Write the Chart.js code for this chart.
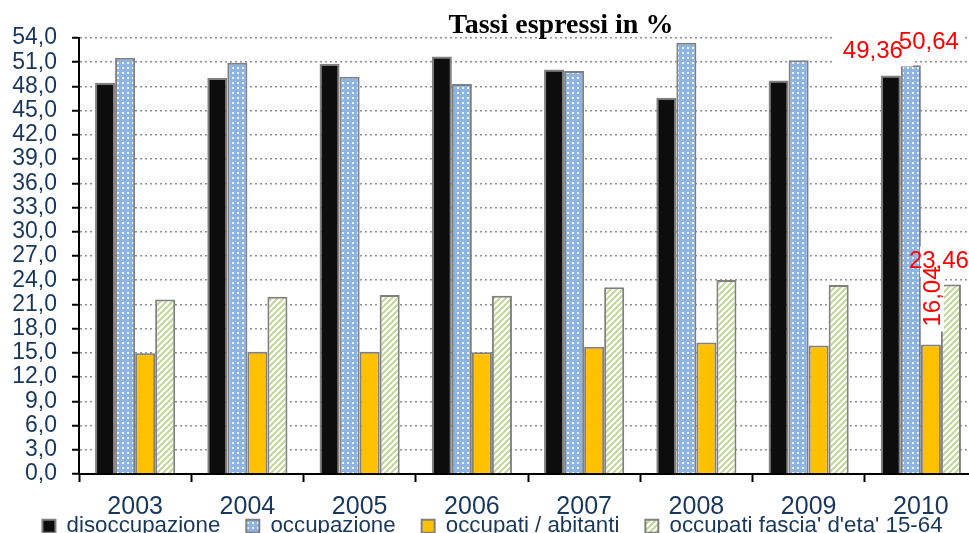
<!DOCTYPE html>
<html>
<head>
<meta charset="utf-8">
<title>Tassi espressi in %</title>
<script src="https://cdn.jsdelivr.net/npm/chart.js@4.4.0/dist/chart.umd.min.js"></script>
<style>
  html, body { margin: 0; padding: 0; overflow: hidden; background: #fff; }
  #wrap { width: 985px; height: 533px; }
</style>
</head>
<body>
<div id="wrap"><canvas id="tassi"></canvas></div>
<script>
// dati per anno
const anni = ['2003', '2004', '2005', '2006', '2007', '2008', '2009', '2010'];
const disoccupazione = [48.45, 49.05, 50.8, 51.7, 50.1, 46.6, 48.75, 49.36];
const occupazione = [51.55, 50.95, 49.2, 48.3, 49.9, 53.4, 51.25, 50.64];
const occupatiAbitanti = [14.95, 15.15, 15.15, 15.07, 15.77, 16.3, 15.9, 16.04];
const occupatiFascia = [21.6, 21.96, 22.17, 22.09, 23.12, 24.03, 23.4, 23.46];
const nomiSerie = ['disoccupazione', 'occupazione', 'occupati / abitanti', "occupati fascia' d'eta' 15-64"];

const BLU_TESTO = '#17375E';
const BORDO = '#808080';

// riempimento a puntini per "occupazione"
function puntini() {
  const c = document.createElement('canvas');
  c.width = 5; c.height = 5;
  const g = c.getContext('2d');
  g.fillStyle = '#8EB4E3';
  g.fillRect(0, 0, 5, 5);
  g.fillStyle = 'rgba(255,255,255,0.85)';
  g.fillRect(2, 2, 2, 2);
  return g.createPattern(c, 'repeat');
}

// righe diagonali per "occupati fascia"
function righe() {
  const c = document.createElement('canvas');
  c.width = 6; c.height = 6;
  const g = c.getContext('2d');
  g.fillStyle = '#fff';
  g.fillRect(0, 0, 6, 6);
  g.strokeStyle = '#C4D79B';
  g.lineWidth = 2.2;
  g.beginPath();
  g.moveTo(-1, 7); g.lineTo(7, -1);
  g.moveTo(-1, 1); g.lineTo(1, -1);
  g.moveTo(5, 7); g.lineTo(7, 5);
  g.stroke();
  return g.createPattern(c, 'repeat');
}

const virgola = (v, d) => v.toFixed(d).replace('.', ',');

// titolo sopra il grafico
const titolo = {
  id: 'titolo',
  afterDraw(chart) {
    const ctx = chart.ctx;
    ctx.save();
    ctx.font = 'bold 28px "Liberation Serif"';
    ctx.fillStyle = '#000';
    ctx.textAlign = 'center';
    ctx.textBaseline = 'alphabetic';
    ctx.fillText('Tassi espressi in %', 561, 33);
    ctx.restore();
  }
};

// la legenda sta quasi attaccata agli anni, sotto l'asse
const legendaBassa = {
  id: 'legendaBassa',
  afterLayout(chart) {
    const lg = chart.legend;
    lg.top = 489;
    lg.bottom = chart.height;
    lg.height = lg.bottom - lg.top;
    lg.left += 4;
    lg.right += 4;
  }
};

// etichette rosse sui valori dell'ultimo anno:
// [dx, dy, rotazione, margine sfondo sx, margine sfondo dx]
const spostamenti = [
  [-18, -25, 0, 8, 10],
  [18, -24, 0, 3, 6],
  [1, -48, -Math.PI / 2, 5, 5],
  [-12, -24, 0, -11, 4]
];
const etichette = {
  id: 'etichette',
  afterDatasetsDraw(chart) {
    const ctx = chart.ctx;
    const ultimo = anni.length - 1;
    ctx.save();
    ctx.font = '24px "Liberation Sans"';
    ctx.textAlign = 'center';
    ctx.textBaseline = 'middle';
    const voci = chart.data.datasets.map((ds, i) => {
      const bar = chart.getDatasetMeta(i).data[ultimo];
      const [dx, dy, rot, ms, md] = spostamenti[i];
      return { x: bar.x + dx, y: bar.y + dy, rot, ms, md, testo: virgola(ds.data[ultimo], 2) };
    });
    // prima gli sfondi bianchi, poi i testi
    for (const v of voci) {
      const w = ctx.measureText(v.testo).width;
      ctx.save();
      ctx.translate(v.x, v.y);
      ctx.rotate(v.rot);
      ctx.fillStyle = '#fff';
      if (v.rot) ctx.fillRect(-w / 2 - v.ms, -11, w + v.ms + v.md, 23);
      else ctx.fillRect(-w / 2 - v.ms, -14, w + v.ms + v.md, 30);
      ctx.restore();
    }
    ctx.fillStyle = '#FF0000';
    for (const v of voci) {
      ctx.save();
      ctx.translate(v.x, v.y);
      ctx.rotate(v.rot);
      ctx.fillText(v.testo, 0, 1);
      ctx.restore();
    }
    ctx.restore();
  }
};

const colori = ['#0D0D0D', puntini(), '#FFC000', righe()];
const valori = [disoccupazione, occupazione, occupatiAbitanti, occupatiFascia];

new Chart(document.getElementById('tassi'), {
  type: 'bar',
  data: {
    labels: anni,
    datasets: valori.map((dati, i) => ({
      label: nomiSerie[i],
      data: dati,
      backgroundColor: colori[i],
      borderColor: BORDO,
      borderWidth: 2,
      categoryPercentage: 0.714,
      barPercentage: 1
    }))
  },
  options: {
    responsive: true,
    maintainAspectRatio: false,
    animation: false,
    layout: { padding: { top: 38, right: 8, left: 0, bottom: 0 } },
    plugins: {
      tooltip: { enabled: false },
      legend: {
        position: 'bottom',
        maxHeight: 1,
        labels: {
          boxWidth: 13,
          boxHeight: 13,
          padding: 26,
          color: BLU_TESTO,
          font: { family: 'Liberation Sans', size: 22.3 }
        }
      }
    },
    scales: {
      x: {
        grid: { offset: true, drawOnChartArea: false, tickLength: 8, tickColor: '#000', tickWidth: 2 },
        border: { color: '#000', width: 2 },
        ticks: { padding: 10, color: BLU_TESTO, font: { family: 'Liberation Sans', size: 25 } },
        afterFit(scale) { scale.height = 58; }
      },
      y: {
        min: 0,
        max: 54,
        ticks: {
          stepSize: 3,
          autoSkip: false,
          padding: 15,
          color: BLU_TESTO,
          font: { family: 'Liberation Sans', size: 23 },
          callback: v => virgola(v, 1)
        },
        grid: { color: '#909090', lineWidth: 1.5, tickLength: 7, tickColor: '#000', tickWidth: 2 },
        border: { color: '#000', width: 2, dash: [2, 3] },
        afterFit(scale) { scale.width = 79; }
      }
    }
  },
  plugins: [titolo, legendaBassa, etichette]
});
</script>
</body>
</html>
